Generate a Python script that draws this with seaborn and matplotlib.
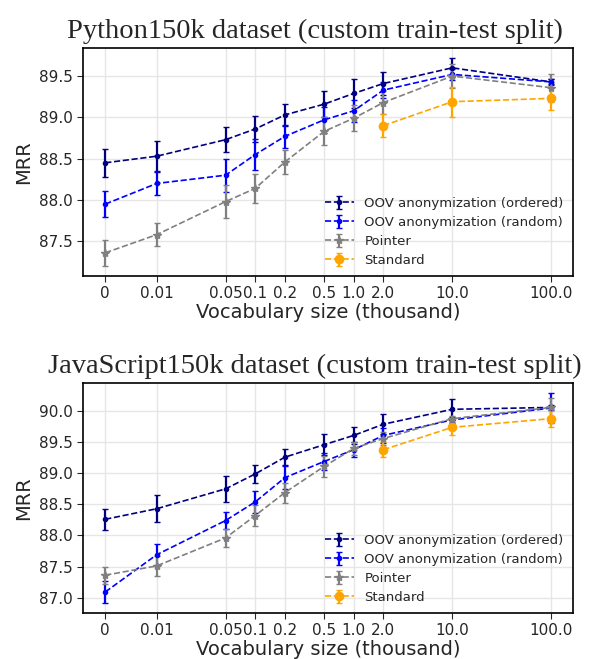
import matplotlib
matplotlib.use("Agg")
import matplotlib.pyplot as plt
from matplotlib.ticker import MultipleLocator, FormatStrFormatter
import seaborn as sns

# Data (MRR)
VOCAB_LABELS = ["0", "0.01", "0.05", "0.1", "0.2", "0.5", "1.0", "2.0", "10.0", "100.0"]
# "0" drawn at 0.003 so it fits on the log axis
VOCAB_POS = [0.003, 0.01, 0.05, 0.1, 0.2, 0.5, 1.0, 2.0, 10.0, 100.0]
STD_POS = [2.0, 10.0, 100.0]

py_ordered = [88.45, 88.53, 88.73, 88.86, 89.03, 89.16, 89.29, 89.41, 89.60, 89.43]
py_ordered_err = [0.17, 0.19, 0.15, 0.16, 0.13, 0.155, 0.18, 0.14, 0.115, 0.03]
py_random = [87.95, 88.20, 88.30, 88.55, 88.77, 88.97, 89.08, 89.33, 89.52, 89.43]
py_random_err = [0.155, 0.145, 0.2, 0.19, 0.14, 0.16, 0.135, 0.1, 0.07, 0.04]
py_pointer = [87.36, 87.58, 87.98, 88.14, 88.46, 88.83, 88.99, 89.18, 89.50, 89.36]
py_pointer_err = [0.155, 0.14, 0.2, 0.175, 0.14, 0.17, 0.16, 0.14, 0.15, 0.17]
py_standard = [88.90, 89.19, 89.23]
py_standard_err = [0.135, 0.18, 0.14]

js_ordered = [88.26, 88.43, 88.75, 88.99, 89.26, 89.46, 89.61, 89.79, 90.03, 90.06]
js_ordered_err = [0.17, 0.215, 0.205, 0.15, 0.13, 0.165, 0.14, 0.165, 0.17, 0.04]
js_random = [87.09, 87.69, 88.24, 88.54, 88.93, 89.19, 89.38, 89.61, 89.86, 90.05]
js_random_err = [0.17, 0.17, 0.14, 0.18, 0.19, 0.13, 0.12, 0.12, 0.05, 0.235]
js_pointer = [87.36, 87.51, 87.96, 88.32, 88.69, 89.11, 89.40, 89.56, 89.88, 90.06]
js_pointer_err = [0.14, 0.16, 0.15, 0.175, 0.16, 0.175, 0.1, 0.1, 0.05, 0.16]
js_standard = [89.38, 89.74, 89.88]
js_standard_err = [0.125, 0.13, 0.13]


def draw_panel(ax, title, ordered, ordered_err, random, random_err,
               pointer, pointer_err, standard, standard_err):
    series = [
        ("OOV anonymization (ordered)", VOCAB_POS, ordered, ordered_err, "navy", ".", 6),
        ("OOV anonymization (random)", VOCAB_POS, random, random_err, "blue", ".", 6),
        ("Pointer", VOCAB_POS, pointer, pointer_err, "gray", "*", 6),
        ("Standard", STD_POS, standard, standard_err, "orange", "o", 6),
    ]
    for label, x, y, err, color, marker, ms in series:
        ax.errorbar(x, y, yerr=err, fmt="--", marker=marker, markersize=ms,
                    color=color, capsize=2.5, elinewidth=1.6, linewidth=1.2,
                    label=label)
    ax.set_xscale("log")
    ax.set_xticks(VOCAB_POS)
    ax.set_xticklabels(VOCAB_LABELS)
    ax.minorticks_off()
    ax.yaxis.set_major_locator(MultipleLocator(0.5))
    ax.yaxis.set_major_formatter(FormatStrFormatter("%.1f"))
    ax.tick_params(axis="both", labelsize=11, direction="out", length=4)
    ax.grid(True, color="#e6e6e6", linewidth=1)
    ax.set_axisbelow(True)
    ax.set_xlabel("Vocabulary size (thousand)", fontsize=14, labelpad=1)
    ax.set_ylabel("MRR", fontsize=14)
    ax.set_title(title, fontsize=20.5, family="Liberation Serif", pad=7, x=0.474)
    for sp in ax.spines.values():
        sp.set_color("black")
        sp.set_linewidth(1.2)
    ax.legend(loc="lower right", frameon=False, fontsize=9.5,
              handlelength=2.2, borderaxespad=0.3, labelspacing=0.45)


if __name__ == "__main__":
    sns.set_style("ticks")
    plt.rcParams["font.family"] = ["DejaVu Sans"]

    fig = plt.figure(figsize=(5.91, 6.59), dpi=100)
    ax1 = fig.add_axes([0.1404, 0.5812, 0.8291, 0.3460])
    ax2 = fig.add_axes([0.1404, 0.0698, 0.8291, 0.3490])

    draw_panel(ax1, "Python150k dataset (custom train-test split)",
               py_ordered, py_ordered_err, py_random, py_random_err,
               py_pointer, py_pointer_err, py_standard, py_standard_err)
    draw_panel(ax2, "JavaScript150k dataset (custom train-test split)",
               js_ordered, js_ordered_err, js_random, js_random_err,
               js_pointer, js_pointer_err, js_standard, js_standard_err)

    fig.savefig("out.png", dpi=100)
